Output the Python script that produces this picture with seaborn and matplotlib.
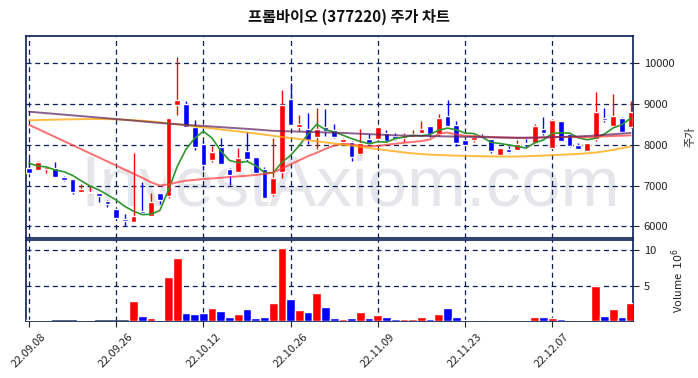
import matplotlib
matplotlib.use("Agg")
import matplotlib.pyplot as plt
import numpy as np
import pandas as pd
import seaborn as sns

# daily prices (won)
open_ = [7423, 7382, 7415, 7439, 7211, 7154, 6846, 6810, 6813, 6618,
         6415, 6170, 6114, 6370, 6260, 6813, 6748, 8976, 9000, 8439,
         8008, 7626, 7951, 7398, 7341, 7837, 7707, 7398, 6789, 7333,
         9122, 8431, 8390, 8187, 8439, 8374, 8065, 8073, 7764, 8146,
         8146, 8293, 8211, 8171, 8195, 8293, 8472, 8252, 8715, 8496,
         8106, 8114, 8220, 8130, 7748, 7886, 7870, 8040, 8049, 8398,
         7919, 8593, 8252, 7992, 7846, 8130, 8650, 8455, 8650, 8431]
high = [7659, 7600, 7460, 7577, 7230, 7154, 7049, 6990, 6813, 6650,
        6420, 6300, 7805, 7088, 6812, 6813, 8667, 10163, 9065, 8602,
        8100, 7968, 8154, 7420, 7919, 8309, 7707, 7463, 8171, 9350,
        9512, 8740, 8781, 8903, 8878, 8520, 8171, 8090, 8390, 8252,
        8439, 8358, 8293, 8293, 8350, 8577, 8472, 8756, 9106, 8577,
        8140, 8228, 8260, 8150, 7930, 7967, 8114, 8130, 8520, 8683,
        8634, 8593, 8252, 8049, 8050, 9293, 8902, 9252, 8675, 9081]
low = [7301, 7370, 7301, 7220, 7110, 6805, 6846, 6805, 6585, 6463,
       6170, 6016, 6114, 6324, 6260, 6545, 6691, 8740, 8431, 7862,
       7382, 7580, 7537, 7008, 7341, 7600, 7280, 6707, 6748, 7195,
       8496, 8333, 8008, 7903, 8211, 8170, 8040, 7602, 7740, 8049,
       8130, 8060, 8110, 8065, 8180, 8280, 8195, 8211, 8472, 7967,
       7992, 8060, 8180, 7805, 7740, 7800, 7860, 7920, 8049, 8228,
       7886, 8089, 7950, 7902, 7840, 8089, 8553, 8455, 8290, 8415]
close = [7301, 7585, 7455, 7220, 7138, 6846, 6911, 6830, 6748, 6537,
         6195, 6130, 6244, 6330, 6590, 6650, 8667, 9106, 8431, 7943,
         7504, 7829, 7537, 7260, 7683, 7642, 7317, 6707, 7195, 8984,
         8496, 8520, 8114, 8398, 8333, 8195, 8130, 7699, 8049, 8049,
         8439, 8089, 8130, 8228, 8252, 8398, 8252, 8667, 8472, 8049,
         7992, 8195, 8210, 7846, 7911, 7821, 8008, 8010, 8472, 8276,
         8618, 8089, 7967, 7902, 8033, 8813, 8600, 8715, 8309, 8813]
# volume in millions of shares
volume = [0.08, 0.08, 0.08, 0.05, 0.05, 0.05, 0.08, 0.08, 0.05, 0.05,
          0.05, 0.05, 2.8, 0.75, 0.4, 0.1, 6.25, 8.9, 1.1, 0.95,
          1.1, 1.8, 1.4, 0.6, 1.0, 1.7, 0.45, 0.55, 2.5, 10.3,
          3.05, 1.55, 1.25, 4.0, 1.95, 0.45, 0.3, 0.45, 1.25, 0.45,
          0.85, 0.55, 0.3, 0.3, 0.3, 0.6, 0.3, 1.0, 1.8, 0.6,
          0.2, 0.1, 0.1, 0.1, 0.1, 0.1, 0.1, 0.15, 0.6, 0.6,
          0.45, 0.3, 0.15, 0.12, 0.15, 4.9, 0.75, 1.7, 0.6, 2.5]
# first four 5-day averages (earlier closes are off the chart)
ma5_head = [7545, 7480, 7455, 7382]
ma20 = [8488, 8390, 8290, 8190, 8090, 7990, 7890, 7790, 7690, 7590,
        7490, 7390, 7290, 7190, 7080, 7000, 7030, 7080, 7120, 7140,
        7160, 7175, 7190, 7210, 7225, 7240, 7260, 7285, 7317, 7420,
        7520, 7620, 7720, 7805, 7900, 7980, 8025, 8010, 7970, 7965,
        7970, 8000, 8025, 8050, 8070, 8090, 8130, 8270, 8300, 8250,
        8225, 8210, 8200, 8190, 8180, 8175, 8170, 8170, 8175, 8180,
        8185, 8190, 8190, 8185, 8185, 8195, 8205, 8215, 8220, 8230]
ma60 = [8600, 8605, 8610, 8615, 8620, 8624, 8628, 8630, 8630, 8628,
        8622, 8612, 8600, 8588, 8572, 8550, 8525, 8500, 8475, 8450,
        8425, 8400, 8375, 8350, 8325, 8300, 8275, 8250, 8220, 8190,
        8165, 8140, 8112, 8085, 8058, 8030, 8003, 7976, 7950, 7920,
        7893, 7866, 7838, 7812, 7790, 7772, 7758, 7748, 7740, 7733,
        7727, 7722, 7718, 7715, 7712, 7710, 7712, 7718, 7726, 7735,
        7745, 7755, 7765, 7775, 7790, 7810, 7840, 7875, 7915, 7955]
ma120 = [8810, 8792, 8774, 8756, 8738, 8720, 8702, 8684, 8666, 8648,
         8630, 8611, 8592, 8573, 8554, 8535, 8518, 8503, 8488, 8474,
         8460, 8446, 8432, 8418, 8404, 8390, 8375, 8358, 8342, 8335,
         8328, 8322, 8315, 8309, 8303, 8297, 8290, 8280, 8270, 8260,
         8250, 8240, 8230, 8226, 8222, 8217, 8213, 8209, 8204, 8200,
         8195, 8191, 8187, 8183, 8179, 8175, 8171, 8172, 8175, 8180,
         8186, 8192, 8198, 8205, 8215, 8228, 8243, 8258, 8274, 8290]
tick_labels = ["22.09.08", "22.09.26", "22.10.12", "22.10.26",
               "22.11.09", "22.11.23", "22.12.07"]

df = pd.DataFrame({"open": open_, "high": high, "low": low,
                   "close": close, "volume": volume,
                   "ma20": ma20, "ma60": ma60, "ma120": ma120})
df["x"] = np.arange(len(df))
ma5 = df["close"].rolling(5).mean()
ma5.iloc[:4] = ma5_head
df["ma5"] = ma5

up = df["close"] >= df["open"]
colors = np.where(up, "#ff0000", "#0000ff")

sns.set_style("white")
plt.rcParams["font.family"] = ["Noto Sans CJK KR", "DejaVu Sans"]
navy = "#0b1f55"

fig = plt.figure(figsize=(6.98, 3.78), dpi=100)
ax = fig.add_axes([0.0372, 0.3704, 0.870, 0.5344])
axv = fig.add_axes([0.0372, 0.1508, 0.870, 0.2143])

# watermark
ax.text(0.534, 0.25, "InvestAxiom.com", transform=ax.transAxes,
        ha="center", va="center", fontsize=51, color="#e6e6ea",
        family="Liberation Sans", zorder=0)

# candles
ax.vlines(df["x"], df["low"], df["high"], colors=colors, lw=1.0, zorder=3)
body = (df["close"] - df["open"]).abs().clip(lower=12)
ax.bar(df["x"], body, bottom=df[["open", "close"]].min(axis=1),
       width=0.65, color=colors, zorder=4)

# moving averages
sns.lineplot(data=df, x="x", y="ma5", ax=ax, color="#2e962e", lw=1.2, zorder=5)
sns.lineplot(data=df, x="x", y="ma20", ax=ax, color="#ff4040", lw=1.4, alpha=0.75, zorder=5)
sns.lineplot(data=df, x="x", y="ma60", ax=ax, color="#ffa500", lw=1.4, alpha=0.75, zorder=5)
sns.lineplot(data=df, x="x", y="ma120", ax=ax, color="#5a1f5a", lw=1.4, alpha=0.7, zorder=5)

# volume
axv.bar(df["x"], df["volume"], width=1.0, color=colors, zorder=3)

xt = list(range(0, 70, 10))
for a in (ax, axv):
    a.set_xlim(-0.35, 69.3)
    a.set_xticks(xt)
    a.grid(True, linestyle=(0, (4, 3)), color=navy, lw=0.9)
    a.yaxis.tick_right()
    a.yaxis.set_label_position("right")
    a.tick_params(axis="both", colors="#222222", labelsize=8, length=4,
                  direction="out", bottom=True, right=True, left=False)
    for s in a.spines.values():
        s.set_color(navy)
        s.set_linewidth(1.2)
    a.set_xlabel("")

ax.set_ylim(5715, 10666)
ax.set_yticks([6000, 7000, 8000, 9000, 10000])
ax.set_xticklabels([])
ax.tick_params(axis="x", length=0)
ax.set_ylabel("주가", fontsize=8, color="#222222", labelpad=8)

axv.set_ylim(0, 11.43)
axv.set_yticks([5, 10])
axv.set_xticklabels(tick_labels, rotation=45, ha="center")
axv.set_ylabel("Volume  $10^{6}$", fontsize=8, color="#222222", labelpad=10)

fig.text(0.5, 0.955, "프롬바이오 (377220) 주가 차트", ha="center", va="center",
         fontsize=11, fontweight="bold", color="#111111")

fig.savefig("out.png", dpi=100)
